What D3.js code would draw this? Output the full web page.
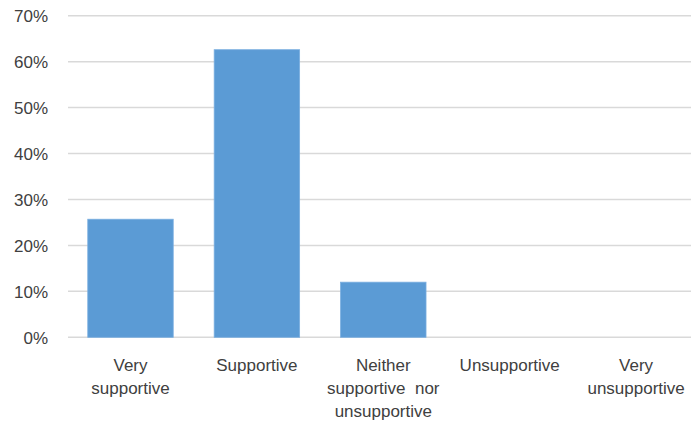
<!DOCTYPE html>
<html>
<head>
<meta charset="utf-8">
<script src="https://cdn.jsdelivr.net/npm/d3@7"></script>
<style>
  body { margin: 0; background: #fff; }
  text { font-family: "Liberation Sans", Arial, sans-serif; fill: #404040; }
</style>
</head>
<body>
<div id="chart"></div>
<script>
// datos del gráfico
var categories = ["Very supportive", "Supportive", "Neither supportive nor unsupportive", "Unsupportive", "Very unsupportive"];
var labelLines = [["Very", "supportive"], ["Supportive"], ["Neither", "supportive  nor", "unsupportive"], ["Unsupportive"], ["Very", "unsupportive"]];
var values = [0.257, 0.626, 0.12, 0, 0];
var yTicks = [0, 0.1, 0.2, 0.3, 0.4, 0.5, 0.6, 0.7];

var W = 691, H = 423;

var svg = d3.select("#chart")
  .append("svg")
    .attr("width", W)
    .attr("height", H);

// escalas
var x = d3.scaleBand()
  .domain(categories)
  .range([67.3, 699.3])
  .paddingInner(0.324)
  .paddingOuter(0.162);

var y = d3.scaleLinear()
  .domain([0, 0.7])
  .range([337.3, 15.7]);

// líneas de la cuadrícula
svg.append("g")
  .selectAll("line")
  .data(yTicks)
  .enter()
  .append("line")
    .attr("x1", 68)
    .attr("x2", W)
    .attr("y1", function (d) { return y(d); })
    .attr("y2", function (d) { return y(d); })
    .attr("stroke", "#d9d9d9")
    .attr("stroke-width", 1.5);

// eje Y
var yAxis = svg.append("g")
  .attr("transform", "translate(48,0)")
  .call(d3.axisLeft(y).tickValues(yTicks).tickFormat(d3.format(".0%")).tickSize(0).tickPadding(0));
yAxis.select(".domain").remove();
yAxis.selectAll("text")
  .attr("font-size", "17px")
  .attr("font-family", null)
  .attr("fill", "#404040")
  .attr("dy", "0.35em");

// barras
svg.append("g")
  .selectAll("rect")
  .data(values)
  .enter()
  .append("rect")
    .attr("x", function (d, i) { return x(categories[i]); })
    .attr("width", x.bandwidth())
    .attr("y", function (d) { return y(d); })
    .attr("height", function (d) { return y(0) - y(d); })
    .attr("fill", "#5b9bd5")
    .attr("stroke", "#7aaee0")
    .attr("stroke-width", 0.8);

// etiquetas del eje X
var xl = svg.append("g")
  .selectAll("text")
  .data(categories)
  .enter()
  .append("text")
    .attr("text-anchor", "middle")
    .attr("font-size", "17px")
    .attr("x", function (d) { return x(d) + x.bandwidth() / 2; })
    .attr("y", 371);

xl.selectAll("tspan")
  .data(function (d, i) { return labelLines[i]; })
  .enter()
  .append("tspan")
    .attr("x", function () { return d3.select(this.parentNode).attr("x"); })
    .attr("dy", function (d, i) { return i === 0 ? 0 : 23; })
    .style("white-space", "pre")
    .text(function (d) { return d; });
</script>
</body>
</html>
